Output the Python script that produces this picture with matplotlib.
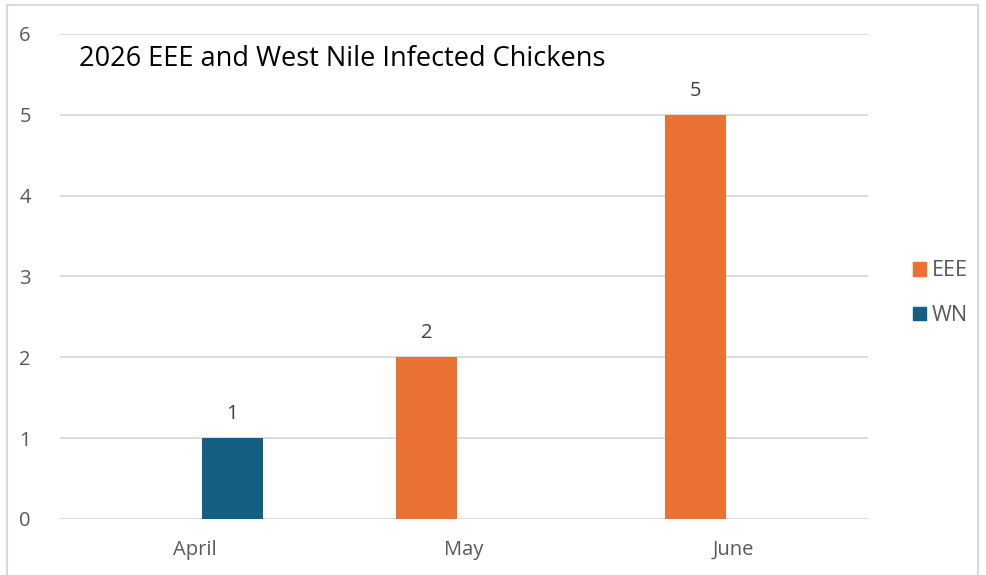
import matplotlib
matplotlib.use("Agg")
import matplotlib.pyplot as plt
import numpy as np
from matplotlib.patches import Rectangle, Patch

months = ["April", "May", "June"]
eee = [np.nan, 2, 5]
wn = [1, np.nan, np.nan]
yticks = [0, 1, 2, 3, 4, 5, 6]

plt.rcParams['font.family'] = ['Open Sans', 'DejaVu Sans']
gray = "#595959"
c_eee = "#E97132"
c_wn = "#156082"

fig = plt.figure(figsize=(9.87, 5.75), dpi=100)
ax = fig.add_axes([0.0608, 0.0974, 0.8186, 0.8435])

x = np.arange(len(months))
w = 0.225
off = 0.14
b1 = ax.bar(x - off, eee, w, color=c_eee, label="EEE", zorder=3)
b2 = ax.bar(x + off, wn, w, color=c_wn, label="WN", zorder=3)

for bars, vals in ((b1, eee), (b2, wn)):
    for rect, v in zip(bars, vals):
        if not np.isnan(v):
            ax.annotate(f"{int(v)}", (rect.get_x() + rect.get_width() / 2, v),
                        xytext=(0, 10), textcoords="offset points",
                        ha="center", va="bottom", fontsize=14.5, color="#404040")

ax.set_xlim(-0.5, 2.5)
ax.set_ylim(0, 6)
ax.set_yticks(yticks)
ax.set_yticklabels([str(t) for t in yticks])
ax.set_xticks(x)
ax.set_xticklabels(months)
ax.tick_params(axis="both", length=0, labelsize=14.5, colors=gray)
ax.tick_params(axis="y", pad=21)
ax.tick_params(axis="x", pad=15)
ax.grid(axis="y", color="#d9d9d9", linewidth=1.3, zorder=0)
for s in ax.spines.values():
    s.set_visible(False)

fig.text(79 / 987, 1 - 59 / 575, "2026 EEE and West Nile Infected Chickens",
         fontsize=19.5, color="black", va="center", ha="left")

handles = [Patch(color=c_eee, label="EEE"), Patch(color=c_wn, label="WN")]
leg = fig.legend(handles=handles, loc="center left", bbox_to_anchor=(0.905, 0.49),
                 frameon=False, fontsize=15.5, handlelength=0.6, handleheight=0.6,
                 handletextpad=0.3, labelspacing=1.1)
for t in leg.get_texts():
    t.set_color(gray)

fig.patches.append(Rectangle((7 / 987, -0.01), (978 - 7) / 987, 1 - 5 / 575 + 0.01,
                             transform=fig.transFigure, fill=False,
                             edgecolor="#d9d9d9", linewidth=1.5))

fig.savefig("out.png", dpi=100)
